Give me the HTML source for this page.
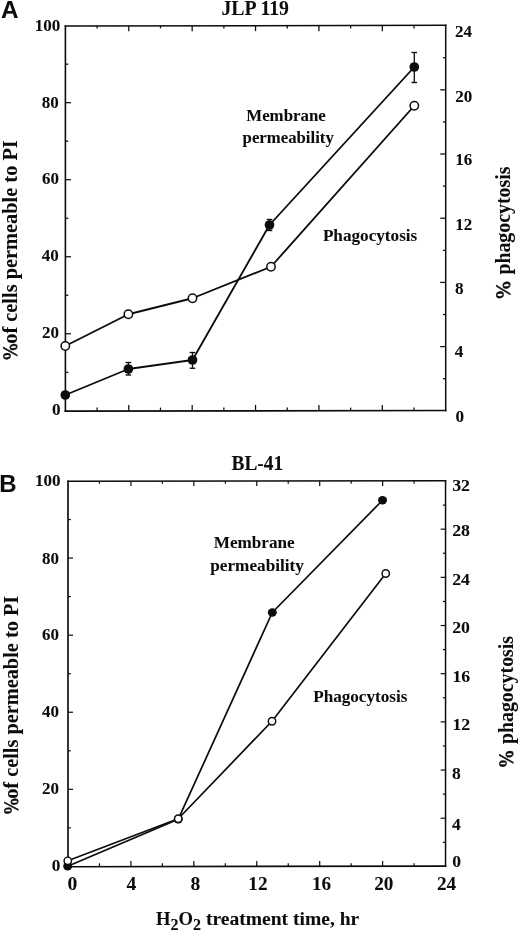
<!DOCTYPE html>
<html lang="en"><head><meta charset="utf-8"><title>Figure</title>
<style>
html,body{margin:0;padding:0;background:#fff}
body{width:520px;height:931px;overflow:hidden}
svg{display:block;filter:blur(0.3px)}
text{fill:#0c0c0c;stroke:#0c0c0c;stroke-width:0.06px}
.s{font-family:"Liberation Serif","DejaVu Serif",serif;font-weight:bold}
.a{font-family:"Liberation Sans","DejaVu Sans",sans-serif;font-weight:bold}
.p{font-style:italic}
</style></head><body>
<svg width="520" height="931" viewBox="0 0 520 931">
<rect width="520" height="931" fill="#fff"/>
<g stroke="#0c0c0c" fill="none" stroke-linecap="square">
<line x1="65.40" y1="25.95" x2="65.40" y2="411.10" stroke-width="1.6"/>
<line x1="65.40" y1="411.10" x2="445.70" y2="410.50" stroke-width="1.7"/>
<line x1="445.70" y1="25.35" x2="445.70" y2="410.50" stroke-width="1.5"/>
<line x1="65.40" y1="25.95" x2="445.70" y2="25.35" stroke-width="1.5"/>
</g>
<g stroke="#0c0c0c" fill="none" stroke-linecap="butt">
<line x1="97.09" y1="25.65" x2="97.09" y2="28.45" stroke-width="1.25"/>
<line x1="97.09" y1="410.80" x2="97.09" y2="407.60" stroke-width="1.25"/>
<line x1="128.78" y1="25.65" x2="128.78" y2="31.15" stroke-width="1.25"/>
<line x1="128.78" y1="410.80" x2="128.78" y2="404.90" stroke-width="1.25"/>
<line x1="160.47" y1="25.65" x2="160.47" y2="28.45" stroke-width="1.25"/>
<line x1="160.47" y1="410.80" x2="160.47" y2="407.60" stroke-width="1.25"/>
<line x1="192.17" y1="25.65" x2="192.17" y2="31.15" stroke-width="1.25"/>
<line x1="192.17" y1="410.80" x2="192.17" y2="404.90" stroke-width="1.25"/>
<line x1="223.86" y1="25.65" x2="223.86" y2="28.45" stroke-width="1.25"/>
<line x1="223.86" y1="410.80" x2="223.86" y2="407.60" stroke-width="1.25"/>
<line x1="255.55" y1="25.65" x2="255.55" y2="31.15" stroke-width="1.25"/>
<line x1="255.55" y1="410.80" x2="255.55" y2="404.90" stroke-width="1.25"/>
<line x1="287.24" y1="25.65" x2="287.24" y2="28.45" stroke-width="1.25"/>
<line x1="287.24" y1="410.80" x2="287.24" y2="407.60" stroke-width="1.25"/>
<line x1="318.93" y1="25.65" x2="318.93" y2="31.15" stroke-width="1.25"/>
<line x1="318.93" y1="410.80" x2="318.93" y2="404.90" stroke-width="1.25"/>
<line x1="350.62" y1="25.65" x2="350.62" y2="28.45" stroke-width="1.25"/>
<line x1="350.62" y1="410.80" x2="350.62" y2="407.60" stroke-width="1.25"/>
<line x1="382.32" y1="25.65" x2="382.32" y2="31.15" stroke-width="1.25"/>
<line x1="382.32" y1="410.80" x2="382.32" y2="404.90" stroke-width="1.25"/>
<line x1="414.01" y1="25.65" x2="414.01" y2="28.45" stroke-width="1.25"/>
<line x1="414.01" y1="410.80" x2="414.01" y2="407.60" stroke-width="1.25"/>
<line x1="65.40" y1="64.16" x2="68.30" y2="64.16" stroke-width="1.25"/>
<line x1="65.40" y1="102.68" x2="71.00" y2="102.68" stroke-width="1.25"/>
<line x1="65.40" y1="141.19" x2="68.30" y2="141.19" stroke-width="1.25"/>
<line x1="65.40" y1="179.71" x2="71.00" y2="179.71" stroke-width="1.25"/>
<line x1="65.40" y1="218.23" x2="68.30" y2="218.23" stroke-width="1.25"/>
<line x1="65.40" y1="256.74" x2="71.00" y2="256.74" stroke-width="1.25"/>
<line x1="65.40" y1="295.25" x2="68.30" y2="295.25" stroke-width="1.25"/>
<line x1="65.40" y1="333.77" x2="71.00" y2="333.77" stroke-width="1.25"/>
<line x1="65.40" y1="372.29" x2="68.30" y2="372.29" stroke-width="1.25"/>
<line x1="445.70" y1="57.75" x2="442.90" y2="57.75" stroke-width="1.25"/>
<line x1="445.70" y1="89.84" x2="440.20" y2="89.84" stroke-width="1.25"/>
<line x1="445.70" y1="121.94" x2="442.90" y2="121.94" stroke-width="1.25"/>
<line x1="445.70" y1="154.03" x2="440.20" y2="154.03" stroke-width="1.25"/>
<line x1="445.70" y1="186.13" x2="442.90" y2="186.13" stroke-width="1.25"/>
<line x1="445.70" y1="218.23" x2="440.20" y2="218.23" stroke-width="1.25"/>
<line x1="445.70" y1="250.32" x2="442.90" y2="250.32" stroke-width="1.25"/>
<line x1="445.70" y1="282.42" x2="440.20" y2="282.42" stroke-width="1.25"/>
<line x1="445.70" y1="314.51" x2="442.90" y2="314.51" stroke-width="1.25"/>
<line x1="445.70" y1="346.61" x2="440.20" y2="346.61" stroke-width="1.25"/>
<line x1="445.70" y1="378.70" x2="442.90" y2="378.70" stroke-width="1.25"/>
</g>
<g stroke="#0c0c0c" stroke-width="1.85" fill="none" stroke-linejoin="round">
<polyline points="65.30,346.00 128.40,314.25 192.50,298.25 271.00,266.75 414.30,105.75"/>
</g>
<circle cx="65.30" cy="346.00" r="4.2" fill="#fff" stroke="#0c0c0c" stroke-width="1.5"/>
<circle cx="128.40" cy="314.25" r="4.2" fill="#fff" stroke="#0c0c0c" stroke-width="1.5"/>
<circle cx="192.50" cy="298.25" r="4.2" fill="#fff" stroke="#0c0c0c" stroke-width="1.5"/>
<circle cx="271.00" cy="266.75" r="4.2" fill="#fff" stroke="#0c0c0c" stroke-width="1.5"/>
<circle cx="414.30" cy="105.75" r="4.2" fill="#fff" stroke="#0c0c0c" stroke-width="1.5"/>
<g stroke="#0c0c0c" stroke-width="1.85" fill="none" stroke-linejoin="round">
<polyline points="65.30,395.00 128.40,369.00 192.50,360.00 269.50,225.00 414.30,67.00"/>
<line x1="128.40" y1="362.50" x2="128.40" y2="375.00" stroke-width="1.3"/>
<line x1="125.60" y1="362.50" x2="131.20" y2="362.50" stroke-width="1.35"/>
<line x1="125.60" y1="375.00" x2="131.20" y2="375.00" stroke-width="1.35"/>
<line x1="192.50" y1="352.50" x2="192.50" y2="368.25" stroke-width="1.3"/>
<line x1="189.70" y1="352.50" x2="195.30" y2="352.50" stroke-width="1.35"/>
<line x1="189.70" y1="368.25" x2="195.30" y2="368.25" stroke-width="1.35"/>
<line x1="269.50" y1="219.50" x2="269.50" y2="230.50" stroke-width="1.3"/>
<line x1="266.70" y1="219.50" x2="272.30" y2="219.50" stroke-width="1.35"/>
<line x1="266.70" y1="230.50" x2="272.30" y2="230.50" stroke-width="1.35"/>
<line x1="414.30" y1="52.50" x2="414.30" y2="82.50" stroke-width="1.3"/>
<line x1="411.50" y1="52.50" x2="417.10" y2="52.50" stroke-width="1.35"/>
<line x1="411.50" y1="82.50" x2="417.10" y2="82.50" stroke-width="1.35"/>
</g>
<ellipse cx="65.30" cy="395.00" rx="4.85" ry="4.85" fill="#0c0c0c"/>
<ellipse cx="128.40" cy="369.00" rx="4.85" ry="4.85" fill="#0c0c0c"/>
<ellipse cx="192.50" cy="360.00" rx="4.85" ry="4.85" fill="#0c0c0c"/>
<ellipse cx="269.50" cy="225.00" rx="4.85" ry="4.85" fill="#0c0c0c"/>
<ellipse cx="414.30" cy="67.00" rx="4.85" ry="4.85" fill="#0c0c0c"/>
<text class="s" x="60.30" y="30.55" font-size="16.5" text-anchor="end" textLength="25.6" lengthAdjust="spacingAndGlyphs">100</text>
<text class="s" x="58.70" y="107.55" font-size="16.5" text-anchor="end" textLength="17.0" lengthAdjust="spacingAndGlyphs">80</text>
<text class="s" x="58.90" y="183.95" font-size="16.5" text-anchor="end" textLength="17.0" lengthAdjust="spacingAndGlyphs">60</text>
<text class="s" x="58.70" y="261.45" font-size="16.5" text-anchor="end" textLength="17.0" lengthAdjust="spacingAndGlyphs">40</text>
<text class="s" x="59.00" y="338.05" font-size="16.5" text-anchor="end" textLength="17.0" lengthAdjust="spacingAndGlyphs">20</text>
<text class="s" x="60.70" y="415.15" font-size="16.5" text-anchor="end" textLength="8.6" lengthAdjust="spacingAndGlyphs">0</text>
<text class="s" x="455.10" y="36.85" font-size="16.5" text-anchor="start" textLength="17.0" lengthAdjust="spacingAndGlyphs">24</text>
<text class="s" x="455.20" y="101.55" font-size="16.5" text-anchor="start" textLength="17.0" lengthAdjust="spacingAndGlyphs">20</text>
<text class="s" x="455.20" y="165.45" font-size="16.5" text-anchor="start" textLength="17.0" lengthAdjust="spacingAndGlyphs">16</text>
<text class="s" x="455.20" y="229.75" font-size="16.5" text-anchor="start" textLength="17.0" lengthAdjust="spacingAndGlyphs">12</text>
<text class="s" x="455.10" y="293.85" font-size="16.5" text-anchor="start" textLength="8.6" lengthAdjust="spacingAndGlyphs">8</text>
<text class="s" x="454.80" y="357.45" font-size="16.5" text-anchor="start" textLength="8.6" lengthAdjust="spacingAndGlyphs">4</text>
<text class="s" x="455.60" y="421.75" font-size="16.5" text-anchor="start" textLength="8.6" lengthAdjust="spacingAndGlyphs">0</text>
<text class="s" x="255.20" y="15.30" font-size="20.4" text-anchor="middle" textLength="67.6" lengthAdjust="spacingAndGlyphs">JLP 119</text>
<text class="a" x="1.10" y="18.45" font-size="24.3" text-anchor="start">A</text>
<text class="s" x="286.00" y="121.00" font-size="16.5" text-anchor="middle" textLength="79.5" lengthAdjust="spacingAndGlyphs">Membrane</text>
<text class="s" x="288.20" y="142.50" font-size="16.5" text-anchor="middle" textLength="91.2" lengthAdjust="spacingAndGlyphs">permeability</text>
<text class="s" x="370.10" y="241.30" font-size="16.5" text-anchor="middle" textLength="94.4" lengthAdjust="spacingAndGlyphs">Phagocytosis</text>
<text class="s p" font-size="20.8" transform="translate(16.80,358.10) rotate(-90) skewX(14)" textLength="16.0" lengthAdjust="spacingAndGlyphs" style="stroke-width:0.4px">%</text>
<text class="s" font-size="20.4" transform="translate(16.80,343.80) rotate(-90)" textLength="203.6" lengthAdjust="spacingAndGlyphs">of cells permeable to PI</text>
<text class="s p" font-size="20.8" transform="translate(509.50,297.10) rotate(-90) skewX(14)" textLength="17.2" lengthAdjust="spacingAndGlyphs" style="stroke-width:0.4px">%</text>
<text class="s" font-size="20.4" transform="translate(509.50,274.60) rotate(-90)" textLength="108.0" lengthAdjust="spacingAndGlyphs">phagocytosis</text>
<g stroke="#0c0c0c" fill="none" stroke-linecap="square">
<line x1="68.00" y1="481.30" x2="68.00" y2="866.70" stroke-width="1.65"/>
<line x1="68.00" y1="866.70" x2="445.55" y2="866.10" stroke-width="1.6"/>
<line x1="445.55" y1="480.70" x2="445.55" y2="866.10" stroke-width="1.5"/>
<line x1="68.00" y1="481.30" x2="445.55" y2="480.70" stroke-width="1.4"/>
</g>
<g stroke="#0c0c0c" fill="none" stroke-linecap="butt">
<line x1="99.46" y1="481.00" x2="99.46" y2="483.70" stroke-width="1.2"/>
<line x1="99.46" y1="866.40" x2="99.46" y2="863.30" stroke-width="1.2"/>
<line x1="130.93" y1="481.00" x2="130.93" y2="485.90" stroke-width="1.2"/>
<line x1="130.93" y1="866.40" x2="130.93" y2="861.10" stroke-width="1.2"/>
<line x1="162.39" y1="481.00" x2="162.39" y2="483.70" stroke-width="1.2"/>
<line x1="162.39" y1="866.40" x2="162.39" y2="863.30" stroke-width="1.2"/>
<line x1="193.85" y1="481.00" x2="193.85" y2="485.90" stroke-width="1.2"/>
<line x1="193.85" y1="866.40" x2="193.85" y2="861.10" stroke-width="1.2"/>
<line x1="225.31" y1="481.00" x2="225.31" y2="483.70" stroke-width="1.2"/>
<line x1="225.31" y1="866.40" x2="225.31" y2="863.30" stroke-width="1.2"/>
<line x1="256.77" y1="481.00" x2="256.77" y2="485.90" stroke-width="1.2"/>
<line x1="256.77" y1="866.40" x2="256.77" y2="861.10" stroke-width="1.2"/>
<line x1="288.24" y1="481.00" x2="288.24" y2="483.70" stroke-width="1.2"/>
<line x1="288.24" y1="866.40" x2="288.24" y2="863.30" stroke-width="1.2"/>
<line x1="319.70" y1="481.00" x2="319.70" y2="485.90" stroke-width="1.2"/>
<line x1="319.70" y1="866.40" x2="319.70" y2="861.10" stroke-width="1.2"/>
<line x1="351.16" y1="481.00" x2="351.16" y2="483.70" stroke-width="1.2"/>
<line x1="351.16" y1="866.40" x2="351.16" y2="863.30" stroke-width="1.2"/>
<line x1="382.62" y1="481.00" x2="382.62" y2="485.90" stroke-width="1.2"/>
<line x1="382.62" y1="866.40" x2="382.62" y2="861.10" stroke-width="1.2"/>
<line x1="414.09" y1="481.00" x2="414.09" y2="483.70" stroke-width="1.2"/>
<line x1="414.09" y1="866.40" x2="414.09" y2="863.30" stroke-width="1.2"/>
<line x1="68.00" y1="519.54" x2="70.80" y2="519.54" stroke-width="1.2"/>
<line x1="68.00" y1="558.08" x2="73.00" y2="558.08" stroke-width="1.2"/>
<line x1="68.00" y1="596.62" x2="70.80" y2="596.62" stroke-width="1.2"/>
<line x1="68.00" y1="635.16" x2="73.00" y2="635.16" stroke-width="1.2"/>
<line x1="68.00" y1="673.70" x2="70.80" y2="673.70" stroke-width="1.2"/>
<line x1="68.00" y1="712.24" x2="73.00" y2="712.24" stroke-width="1.2"/>
<line x1="68.00" y1="750.78" x2="70.80" y2="750.78" stroke-width="1.2"/>
<line x1="68.00" y1="789.32" x2="73.00" y2="789.32" stroke-width="1.2"/>
<line x1="68.00" y1="827.86" x2="70.80" y2="827.86" stroke-width="1.2"/>
<line x1="445.55" y1="505.09" x2="442.85" y2="505.09" stroke-width="1.2"/>
<line x1="445.55" y1="529.17" x2="440.65" y2="529.17" stroke-width="1.2"/>
<line x1="445.55" y1="553.26" x2="442.85" y2="553.26" stroke-width="1.2"/>
<line x1="445.55" y1="577.35" x2="440.65" y2="577.35" stroke-width="1.2"/>
<line x1="445.55" y1="601.44" x2="442.85" y2="601.44" stroke-width="1.2"/>
<line x1="445.55" y1="625.52" x2="440.65" y2="625.52" stroke-width="1.2"/>
<line x1="445.55" y1="649.61" x2="442.85" y2="649.61" stroke-width="1.2"/>
<line x1="445.55" y1="673.70" x2="440.65" y2="673.70" stroke-width="1.2"/>
<line x1="445.55" y1="697.79" x2="442.85" y2="697.79" stroke-width="1.2"/>
<line x1="445.55" y1="721.88" x2="440.65" y2="721.88" stroke-width="1.2"/>
<line x1="445.55" y1="745.96" x2="442.85" y2="745.96" stroke-width="1.2"/>
<line x1="445.55" y1="770.05" x2="440.65" y2="770.05" stroke-width="1.2"/>
<line x1="445.55" y1="794.14" x2="442.85" y2="794.14" stroke-width="1.2"/>
<line x1="445.55" y1="818.22" x2="440.65" y2="818.22" stroke-width="1.2"/>
<line x1="445.55" y1="842.31" x2="442.85" y2="842.31" stroke-width="1.2"/>
</g>
<g stroke="#0c0c0c" stroke-width="1.7" fill="none" stroke-linejoin="round">
<polyline points="67.70,866.20 178.25,819.20 272.30,612.50 382.50,500.25"/>
</g>
<ellipse cx="67.70" cy="866.20" rx="4.5" ry="4.2" fill="#0c0c0c"/>
<ellipse cx="178.25" cy="819.20" rx="4.5" ry="4.2" fill="#0c0c0c"/>
<ellipse cx="272.30" cy="612.50" rx="4.5" ry="4.2" fill="#0c0c0c"/>
<ellipse cx="382.50" cy="500.25" rx="4.5" ry="4.2" fill="#0c0c0c"/>
<g stroke="#0c0c0c" stroke-width="1.7" fill="none" stroke-linejoin="round">
<polyline points="67.80,860.80 178.25,818.75 272.00,721.25 385.75,573.50"/>
</g>
<circle cx="67.80" cy="860.80" r="3.7" fill="#fff" stroke="#0c0c0c" stroke-width="1.45"/>
<circle cx="178.25" cy="818.75" r="3.7" fill="#fff" stroke="#0c0c0c" stroke-width="1.45"/>
<circle cx="272.00" cy="721.25" r="3.7" fill="#fff" stroke="#0c0c0c" stroke-width="1.45"/>
<circle cx="385.75" cy="573.50" r="3.7" fill="#fff" stroke="#0c0c0c" stroke-width="1.45"/>
<text class="s" x="60.60" y="486.45" font-size="16.5" text-anchor="end" textLength="25.6" lengthAdjust="spacingAndGlyphs">100</text>
<text class="s" x="58.90" y="563.65" font-size="16.5" text-anchor="end" textLength="17.0" lengthAdjust="spacingAndGlyphs">80</text>
<text class="s" x="58.90" y="640.35" font-size="16.5" text-anchor="end" textLength="17.0" lengthAdjust="spacingAndGlyphs">60</text>
<text class="s" x="58.90" y="717.15" font-size="16.5" text-anchor="end" textLength="17.0" lengthAdjust="spacingAndGlyphs">40</text>
<text class="s" x="58.90" y="793.85" font-size="16.5" text-anchor="end" textLength="17.0" lengthAdjust="spacingAndGlyphs">20</text>
<text class="s" x="60.40" y="871.25" font-size="16.5" text-anchor="end" textLength="8.6" lengthAdjust="spacingAndGlyphs">0</text>
<text class="s" x="452.20" y="491.35" font-size="16.5" text-anchor="start" textLength="17.8" lengthAdjust="spacingAndGlyphs">32</text>
<text class="s" x="452.20" y="536.35" font-size="16.5" text-anchor="start" textLength="17.8" lengthAdjust="spacingAndGlyphs">28</text>
<text class="s" x="452.20" y="584.95" font-size="16.5" text-anchor="start" textLength="17.8" lengthAdjust="spacingAndGlyphs">24</text>
<text class="s" x="452.20" y="632.65" font-size="16.5" text-anchor="start" textLength="17.8" lengthAdjust="spacingAndGlyphs">20</text>
<text class="s" x="452.40" y="681.65" font-size="16.5" text-anchor="start" textLength="17.8" lengthAdjust="spacingAndGlyphs">16</text>
<text class="s" x="452.40" y="729.65" font-size="16.5" text-anchor="start" textLength="17.8" lengthAdjust="spacingAndGlyphs">12</text>
<text class="s" x="452.00" y="778.65" font-size="16.5" text-anchor="start" textLength="8.8" lengthAdjust="spacingAndGlyphs">8</text>
<text class="s" x="452.00" y="829.55" font-size="16.5" text-anchor="start" textLength="8.8" lengthAdjust="spacingAndGlyphs">4</text>
<text class="s" x="452.30" y="866.85" font-size="16.5" text-anchor="start" textLength="8.8" lengthAdjust="spacingAndGlyphs">0</text>
<text class="s" x="72.30" y="890.00" font-size="19.2" text-anchor="middle" textLength="9.8" lengthAdjust="spacingAndGlyphs">0</text>
<text class="s" x="131.40" y="890.00" font-size="19.2" text-anchor="middle" textLength="9.8" lengthAdjust="spacingAndGlyphs">4</text>
<text class="s" x="195.40" y="890.00" font-size="19.2" text-anchor="middle" textLength="9.8" lengthAdjust="spacingAndGlyphs">8</text>
<text class="s" x="257.90" y="890.00" font-size="19.2" text-anchor="middle" textLength="19.2" lengthAdjust="spacingAndGlyphs">12</text>
<text class="s" x="321.60" y="890.00" font-size="19.2" text-anchor="middle" textLength="19.2" lengthAdjust="spacingAndGlyphs">16</text>
<text class="s" x="383.80" y="890.00" font-size="19.2" text-anchor="middle" textLength="19.2" lengthAdjust="spacingAndGlyphs">20</text>
<text class="s" x="446.50" y="890.00" font-size="19.2" text-anchor="middle" textLength="19.2" lengthAdjust="spacingAndGlyphs">24</text>
<text class="s" x="257.30" y="470.40" font-size="20.2" text-anchor="middle" textLength="51.6" lengthAdjust="spacingAndGlyphs">BL-41</text>
<text class="a" x="-0.80" y="492.25" font-size="24.0" text-anchor="start">B</text>
<text class="s" x="254.20" y="548.00" font-size="16.5" text-anchor="middle" textLength="81" lengthAdjust="spacingAndGlyphs">Membrane</text>
<text class="s" x="257.10" y="570.80" font-size="16.5" text-anchor="middle" textLength="93.6" lengthAdjust="spacingAndGlyphs">permeability</text>
<text class="s" x="360.30" y="702.00" font-size="16.5" text-anchor="middle" textLength="94.2" lengthAdjust="spacingAndGlyphs">Phagocytosis</text>
<text class="s p" font-size="20.8" transform="translate(18.10,812.30) rotate(-90) skewX(14)" textLength="15.4" lengthAdjust="spacingAndGlyphs" style="stroke-width:0.4px">%</text>
<text class="s" font-size="20.4" transform="translate(18.10,798.80) rotate(-90)" textLength="203.0" lengthAdjust="spacingAndGlyphs">of cells permeable to PI</text>
<text class="s p" font-size="20.8" transform="translate(512.90,765.40) rotate(-90) skewX(14)" textLength="16.4" lengthAdjust="spacingAndGlyphs" style="stroke-width:0.4px">%</text>
<text class="s" font-size="20.4" transform="translate(512.90,744.10) rotate(-90)" textLength="108.2" lengthAdjust="spacingAndGlyphs">phagocytosis</text>
<text class="s" font-size="18.6" x="156.0" y="924.6" textLength="45.0" lengthAdjust="spacingAndGlyphs">H<tspan font-size="16" dy="5.7">2</tspan><tspan dy="-5.7">O</tspan><tspan font-size="16" dy="5.7">2</tspan></text>
<text class="s" font-size="18.6" x="205.9" y="924.6" textLength="153.4" lengthAdjust="spacingAndGlyphs">treatment time, hr</text>
</svg>
</body></html>
